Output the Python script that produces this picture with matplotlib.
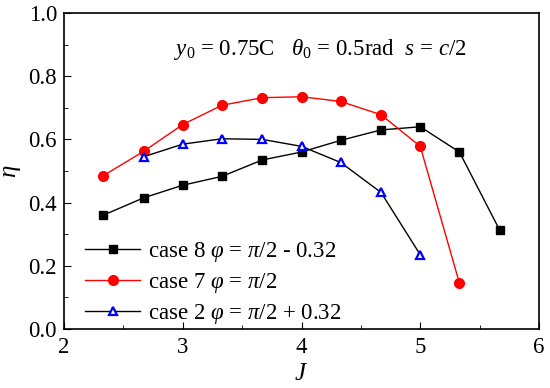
import matplotlib
matplotlib.use("Agg")
import matplotlib.pyplot as plt
from matplotlib.ticker import MultipleLocator, FormatStrFormatter

plt.rcParams['font.family'] = ['Liberation Serif', 'DejaVu Serif']
plt.rcParams['mathtext.fontset'] = 'custom'
plt.rcParams['mathtext.rm'] = 'Liberation Serif'
plt.rcParams['mathtext.it'] = 'Liberation Serif:italic'
plt.rcParams['mathtext.bf'] = 'Liberation Serif:bold'

J8 = [2.33, 2.67, 3.0, 3.33, 3.67, 4.0, 4.33, 4.67, 5.0, 5.33, 5.67]
eta8 = [0.36, 0.415, 0.455, 0.483, 0.535, 0.56, 0.597, 0.63, 0.64, 0.56, 0.312]
J7 = [2.33, 2.67, 3.0, 3.33, 3.67, 4.0, 4.33, 4.67, 5.0, 5.33]
eta7 = [0.485, 0.562, 0.647, 0.708, 0.732, 0.735, 0.72, 0.678, 0.578, 0.145]
J2 = [2.67, 3.0, 3.33, 3.67, 4.0, 4.33, 4.67, 5.0]
eta2 = [0.545, 0.585, 0.602, 0.6, 0.578, 0.527, 0.432, 0.235]

labels = [r"case 8 $\varphi$ = $\pi$/2 - 0.32",
          r"case 7 $\varphi$ = $\pi$/2",
          r"case 2 $\varphi$ = $\pi$/2 + 0.32"]

fig = plt.figure(figsize=(5.5, 3.88), dpi=100)
ax = fig.add_axes([64/550, 1 - 329/388, (539-64)/550, (329-13)/388])

ax.plot(J8, eta8, color='black', lw=1, marker='s', ms=6, mfc='black', mec='black', label=labels[0])
ax.plot(J7, eta7, color='red', lw=1, marker='o', ms=7, mfc='red', mec='red', label=labels[1])
ax.plot(J2, eta2, color='black', lw=1, marker='^', ms=6, mfc='white', mec='blue', mew=1.6, label=labels[2])

ax.set_xlim(2, 6)
ax.set_ylim(0, 1.0)
ax.xaxis.set_major_locator(MultipleLocator(1))
ax.xaxis.set_minor_locator(MultipleLocator(0.5))
ax.yaxis.set_major_locator(MultipleLocator(0.2))
ax.yaxis.set_minor_locator(MultipleLocator(0.1))
ax.yaxis.set_major_formatter(FormatStrFormatter('%.1f'))
ax.tick_params(which='both', direction='in', top=False, right=False, labelsize=16.5)
ax.tick_params(axis='x', which='major', length=5, pad=6)
ax.tick_params(axis='y', which='major', length=5, pad=5)
ax.tick_params(which='minor', length=3)
for s in ax.spines.values():
    s.set_linewidth(1.2)

ax.set_xlabel(r"$J$", fontsize=18, labelpad=3)
ax.set_ylabel(r"$\eta$", fontsize=18, labelpad=4)

ax.text(0.54, 0.885, r"$y_{\mathit{0}}$ = 0.75C   $\theta_{\mathit{0}}$ = 0.5rad  $s$ = $c$/2",
        transform=ax.transAxes, ha='center', va='center', fontsize=16.5)

ax.legend(loc='lower left', frameon=False, fontsize=16.5, handlelength=2.4,
          handletextpad=0.35, labelspacing=0.3, borderaxespad=0.0, borderpad=0.2,
          bbox_to_anchor=(0.035, -0.005))

fig.savefig('out.png', dpi=100)
